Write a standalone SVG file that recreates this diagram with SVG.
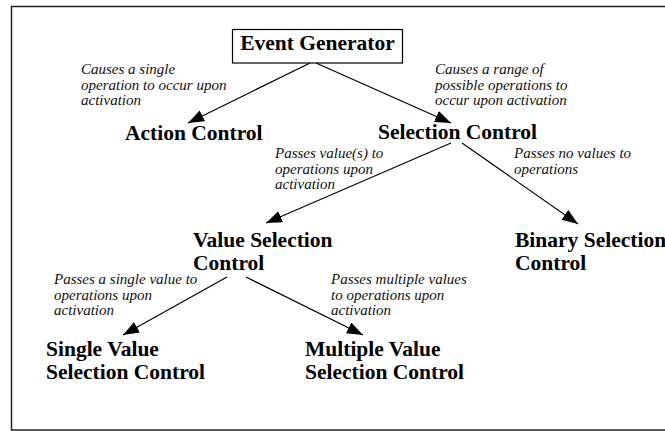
<svg xmlns="http://www.w3.org/2000/svg" width="665" height="431" viewBox="0 0 665 431">
<defs>
<style>
.n{font-weight:bold;font-size:21.5px;fill:#000}
.l{font-style:italic;font-size:15px;fill:#111}
.c line{stroke:#000;stroke-width:1.2;marker-end:url(#ah)}
</style>
<marker id="ah" markerUnits="userSpaceOnUse" markerWidth="17" markerHeight="13" refX="16" refY="6" orient="auto">
<path d="M0,0 L16,6 L0,12 z" fill="#000"/>
</marker>
</defs>
<rect width="665" height="431" fill="#fff"/>
<rect x="11.5" y="6.5" width="700" height="423.5" fill="none" stroke="#222" stroke-width="1.5"/>
<g id="connectors" class="c">
<line x1="310" y1="63" x2="188" y2="123"/>
<line x1="316" y1="63" x2="451" y2="123"/>
<line x1="451" y1="143" x2="266" y2="223"/>
<line x1="462" y1="143" x2="578" y2="224"/>
<line x1="227" y1="277" x2="123" y2="335"/>
<line x1="246" y1="277" x2="363" y2="335"/>
</g>
<g id="labels" font-family="Liberation Serif, DejaVu Serif, Times New Roman, serif">
<text class="l" x="81" y="74">Causes a single</text>
<text class="l" x="81" y="89.5">operation to occur upon</text>
<text class="l" x="81" y="105">activation</text>
<text class="l" x="435" y="74">Causes a range of</text>
<text class="l" x="435" y="89.5">possible operations to</text>
<text class="l" x="435" y="105">occur upon activation</text>
<text class="l" x="275" y="158">Passes value(s) to</text>
<text class="l" x="275" y="173.5">operations upon</text>
<text class="l" x="275" y="189">activation</text>
<text class="l" x="514" y="158">Passes no values to</text>
<text class="l" x="514" y="173.5">operations</text>
<text class="l" x="54" y="284">Passes a single value to</text>
<text class="l" x="54" y="299.5">operations upon</text>
<text class="l" x="54" y="315">activation</text>
<text class="l" x="331" y="284">Passes multiple values</text>
<text class="l" x="331" y="299.5">to operations upon</text>
<text class="l" x="331" y="315">activation</text>
</g>
<g id="nodes" font-family="Liberation Serif, DejaVu Serif, Times New Roman, serif">
<g id="event-generator">
<rect x="232.5" y="29.5" width="170" height="33.5" fill="#fff" stroke="#000" stroke-width="1.2"/>
<text class="n" x="317.5" y="50" text-anchor="middle">Event Generator</text>
</g>
<g id="action-control">
<text class="n" x="125" y="140">Action Control</text>
</g>
<g id="selection-control">
<text class="n" x="378" y="139">Selection Control</text>
</g>
<g id="value-selection-control">
<text class="n" x="193" y="247">Value Selection</text>
<text class="n" x="193" y="270">Control</text>
</g>
<g id="binary-selection-control">
<text class="n" x="515" y="247">Binary Selection</text>
<text class="n" x="515" y="270">Control</text>
</g>
<g id="single-value-selection-control">
<text class="n" x="46" y="356">Single Value</text>
<text class="n" x="46" y="379">Selection Control</text>
</g>
<g id="multiple-value-selection-control">
<text class="n" x="305" y="356">Multiple Value</text>
<text class="n" x="305" y="379">Selection Control</text>
</g>
</g>
</svg>
